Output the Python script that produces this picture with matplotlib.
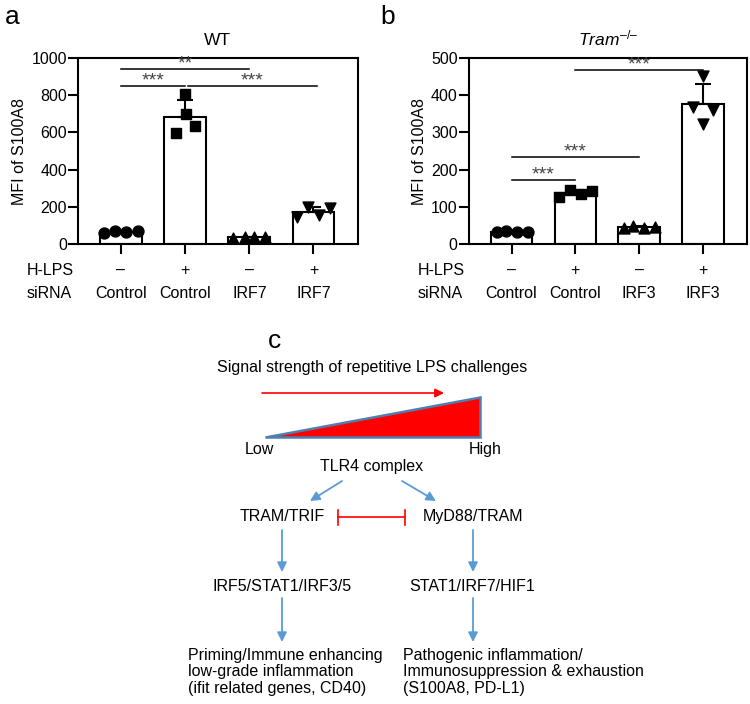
import numpy as np
import matplotlib.pyplot as plt

plt.rcParams['font.family'] = ['Liberation Sans', 'DejaVu Sans']
plt.rcParams['mathtext.fontset'] = 'custom'
plt.rcParams['mathtext.it'] = 'Liberation Sans:italic'
plt.rcParams['mathtext.rm'] = 'Liberation Sans'

# ---- data ----
lps_row = ['–', '+', '–', '+']
sirna_a = ['Control', 'Control', 'IRF7', 'IRF7']
sirna_b = ['Control', 'Control', 'IRF3', 'IRF3']

# WT, MFI of S100A8 (one list per group, 4 replicates)
wt_vals = [
    [59, 73, 64, 71],
    [594, 803, 700, 633],
    [33, 40, 37, 40],
    [148, 198, 157, 192],
]
# Tram-/-
tram_vals = [
    [33, 35, 34, 33],
    [127, 145, 134, 142],
    [43, 48, 44, 47],
    [368, 450, 322, 359],
]
# significance: (group i, group j, height, label)
wt_sig = [(0, 2, 938, '**'), (0, 1, 848, '***'), (1.05, 3.05, 848, '***')]
tram_sig = [(1, 3, 466, '***'), (0, 2, 233, '***'), (0, 1, 172, '***')]

markers = ['o', 's', '^', 'v']
# horizontal scatter of replicates
jit_a = [[-0.26, -0.09, 0.08, 0.26], [-0.14, 0.0, 0.01, 0.15],
         [-0.25, -0.07, 0.08, 0.25], [-0.25, -0.09, 0.08, 0.25]]
jit_b = [[-0.23, -0.08, 0.09, 0.26], [-0.26, -0.08, 0.09, 0.26],
         [-0.24, -0.09, 0.08, 0.25], [-0.15, 0.0, 0.0, 0.15]]

FS = 11.5


def bar_panel(ax, vals, jit, sirna, ymax, step, sigs, title):
    x = np.arange(len(vals))
    means = [np.mean(v) for v in vals]
    sds = [np.std(v, ddof=1) for v in vals]
    ax.bar(x, means, width=0.65, color='white', edgecolor='black', linewidth=1.5, zorder=2)
    ax.errorbar(x, means, yerr=[np.zeros(len(x)), sds], fmt='none', ecolor='black',
                elinewidth=1.5, capsize=6, capthick=1.5, zorder=3)
    for i, v in enumerate(vals):
        ax.scatter(np.array(jit[i]) + i, v, marker=markers[i], s=62, color='black',
                   zorder=4, clip_on=False)
    for i, j, y, lab in sigs:
        ax.plot([i, j], [y, y], color='black', lw=1.1, zorder=3)
        ax.annotate(lab, xy=((i + j) / 2, y), xytext=(0, 0.8), textcoords='offset points',
                    ha='center', va='baseline', fontsize=14, color='#444444')
    ax.set_xlim(-0.67, 3.69)
    ax.set_ylim(0, ymax)
    ax.set_yticks(np.arange(0, ymax + 1, step))
    ax.set_xticks(x)
    ax.set_xticklabels([])
    ax.tick_params(axis='x', length=7, width=1.5, direction='out')
    ax.tick_params(axis='y', length=7, width=1.5, labelsize=FS, pad=1)
    for sp in ax.spines.values():
        sp.set_linewidth(1.5)
    ax.set_ylabel('MFI of S100A8', fontsize=FS, labelpad=3)
    ax.set_title(title, fontsize=FS + 1, pad=9)
    tr = ax.get_xaxis_transform()
    for i in x:
        ax.text(i, -0.14, lps_row[i], transform=tr, ha='center', va='center', fontsize=FS)
        ax.text(i, -0.265, sirna[i], transform=tr, ha='center', va='center', fontsize=FS)
    ax.text(-0.183, -0.14, 'H-LPS', transform=ax.transAxes, ha='left', va='center', fontsize=FS)
    ax.text(-0.183, -0.265, 'siRNA', transform=ax.transAxes, ha='left', va='center', fontsize=FS)


fig = plt.figure(figsize=(7.5, 7.04), dpi=100)
ax_a = fig.add_axes([0.104, 0.653, 0.373, 0.265])
ax_b = fig.add_axes([0.625, 0.653, 0.371, 0.265])
bar_panel(ax_a, wt_vals, jit_a, sirna_a, 1000, 200, wt_sig, 'WT')
bar_panel(ax_b, tram_vals, jit_b, sirna_b, 500, 100, tram_sig, r'$\mathit{Tram}^{\mathit{–/–}}$')

fig.text(5 / 750, 1 - 17 / 704, 'a', fontsize=19, ha='left', va='center')
fig.text(380 / 750, 1 - 17 / 704, 'b', fontsize=19, ha='left', va='center')

# ---- panel c: schematic, drawn in pixel coordinates ----
ax_c = fig.add_axes([0, 0, 1, 374 / 704])
ax_c.set_xlim(0, 750)
ax_c.set_ylim(704, 330)
ax_c.axis('off')

blue = '#5b9bd5'
red = '#ff0000'

ax_c.text(268, 341, 'c', fontsize=19, ha='left', va='center')
ax_c.text(372, 368, 'Signal strength of repetitive LPS challenges', fontsize=FS,
          ha='center', va='center')
ax_c.annotate('', xy=(444, 393), xytext=(262, 393),
              arrowprops=dict(arrowstyle='-|>', color=red, lw=1.2, mutation_scale=13,
                              shrinkA=0, shrinkB=0))
ax_c.add_patch(plt.Polygon([(265, 437), (480, 437), (480, 397)], closed=True,
                           facecolor=red, edgecolor='#4f7fae', lw=1.8, joinstyle='miter'))
ax_c.text(259, 450, 'Low', fontsize=FS, ha='center', va='center')
ax_c.text(485, 450, 'High', fontsize=FS, ha='center', va='center')
ax_c.text(372, 467, 'TLR4 complex', fontsize=FS, ha='center', va='center')

arrow_kw = dict(arrowstyle='-|>', color=blue, lw=1.3, mutation_scale=14, shrinkA=0, shrinkB=0)
ax_c.annotate('', xy=(310, 501), xytext=(342, 481), arrowprops=arrow_kw)
ax_c.annotate('', xy=(436, 501), xytext=(402, 481), arrowprops=arrow_kw)

ax_c.text(282, 517, 'TRAM/TRIF', fontsize=FS, ha='center', va='center')
ax_c.text(473, 517, 'MyD88/TRAM', fontsize=FS, ha='center', va='center')
ax_c.plot([338, 405], [517, 517], color=red, lw=1.2)
ax_c.plot([338, 338], [510, 525], color=red, lw=1.2)
ax_c.plot([405, 405], [510, 525], color=red, lw=1.2)

for xc in (282, 473):
    ax_c.annotate('', xy=(xc, 572), xytext=(xc, 530), arrowprops=arrow_kw)
    ax_c.annotate('', xy=(xc, 642), xytext=(xc, 598), arrowprops=arrow_kw)

ax_c.text(282, 587, 'IRF5/STAT1/IRF3/5', fontsize=FS, ha='center', va='center')
ax_c.text(472, 587, 'STAT1/IRF7/HIF1', fontsize=FS, ha='center', va='center')

ax_c.text(188, 648, 'Priming/Immune enhancing\nlow-grade inflammation\n(ifit related genes, CD40)',
          fontsize=FS, ha='left', va='top', linespacing=1.12)
ax_c.text(403, 648, 'Pathogenic inflammation/\nImmunosuppression & exhaustion\n(S100A8, PD-L1)',
          fontsize=FS, ha='left', va='top', linespacing=1.12)

fig.savefig('out.png', dpi=100)
